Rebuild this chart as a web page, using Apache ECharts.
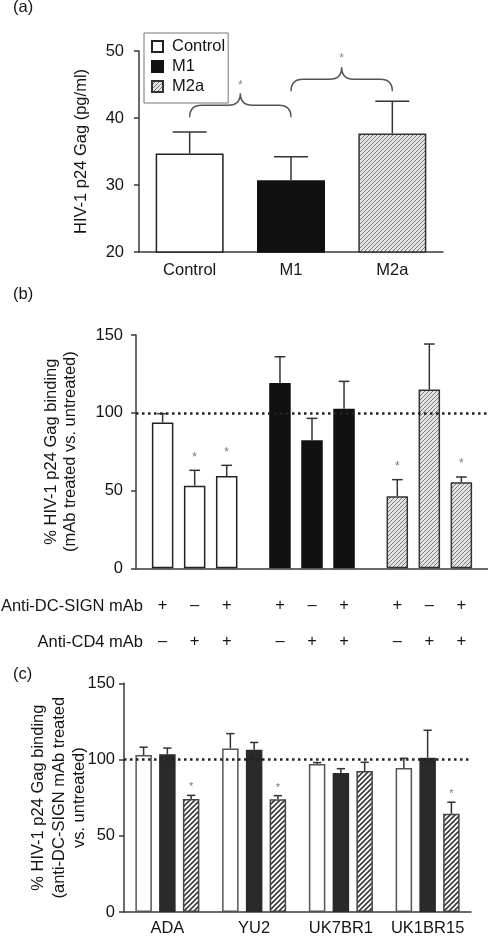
<!DOCTYPE html>
<html><head><meta charset="utf-8">
<script src="https://cdn.jsdelivr.net/npm/echarts@6/dist/echarts.min.js"></script>
<style>html,body{margin:0;padding:0;background:#fff}#c{width:488px;height:937px}</style>
</head><body><div id="c"></div>
<script>
// ---------- Panel (a) ----------
const catsA = ['Control', 'M1', 'M2a'];
const meanA = [34.7, 30.7, 37.7];
const errA = [37.9, 34.2, 42.5];
// brackets: [from category, to category, level value]
const bracketsA = [[0, 1, 41.9], [1, 2, 45.8]];

// ---------- Panel (b) ----------
const groupsB = ['Control', 'M1', 'M2a'];
const treatB = ['DC-SIGN+/CD4-', 'DC-SIGN-/CD4+', 'DC-SIGN+/CD4+'];
const meanB = [[93.8, 119.1, 46.3], [53.1, 82.3, 115.0], [59.3, 102.6, 55.3]];
const errB = [[99.4, 136.0, 57.0], [63.0, 96.4, 144.2], [66.2, 120.2, 58.7]];
const sigB = [[0, 0, 1], [1, 0, 0], [1, 0, 1]];
const dcsignB = ['+', '–', '+'];
const cd4B = ['–', '+', '+'];
const rowLabelsB = ['Anti-DC-SIGN mAb', 'Anti-CD4 mAb'];

// ---------- Panel (c) ----------
const strainsC = ['ADA', 'YU2', 'UK7BR1', 'UK1BR15'];
const seriesC = ['Control', 'M1', 'M2a'];
const meanC = [[102.9, 107.3, 97.1, 94.5], [103.4, 106.4, 91.2, 101.2], [74.1, 73.9, 92.5, 64.4]];
const errC = [[108.1, 117.0, 98.0, 100.8], [107.5, 111.2, 94.0, 119.2], [76.5, 76.3, 98.2, 72.0]];
const sigC = [[0, 0, 0, 0], [0, 0, 0, 0], [1, 1, 0, 1]];

const FONT = 'Liberation Sans, Arial, sans-serif';
const FS = 16.5;
const TXT = '#151515';
const AX = '#3a3a3a';

function hatch(size, bg, fg, lw) {
  const c = document.createElement('canvas');
  c.width = c.height = size;
  const g = c.getContext('2d');
  g.fillStyle = bg; g.fillRect(0, 0, size, size);
  g.strokeStyle = fg; g.lineWidth = lw;
  g.beginPath();
  g.moveTo(0, size); g.lineTo(size, 0);
  g.moveTo(-size, size); g.lineTo(size, -size);
  g.moveTo(0, 2 * size); g.lineTo(2 * size, 0);
  g.stroke();
  return { image: c, repeat: 'repeat' };
}
const hatchAB = hatch(4, '#e4e4e4', '#7a7a7a', 1);
const hatchC = hatch(5, '#ffffff', '#3a3a3a', 1.6);

const styleAB = [
  { color: '#ffffff', borderColor: '#222', borderWidth: 1.5 },
  { color: '#111111', borderColor: '#111', borderWidth: 1.5 },
  { color: hatchAB, borderColor: '#333', borderWidth: 1.5 }
];
const styleC = [
  { color: '#ffffff', borderColor: '#555', borderWidth: 1.5 },
  { color: '#2a2a2a', borderColor: '#2a2a2a', borderWidth: 1.5 },
  { color: hatchC, borderColor: '#444', borderWidth: 1.5 }
];

function errRender(offsetFn, capW, starGap, starSize) {
  return function (params, api) {
    const c = api.value(0), m = api.value(1), e = api.value(2), s = api.value(3);
    const b = api.coord([c, m]);
    const t = api.coord([c, e]);
    const x = b[0] + offsetFn();
    const ls = { stroke: '#333', lineWidth: 1.5 };
    const ch = [
      { type: 'line', shape: { x1: x, y1: b[1], x2: x, y2: t[1] }, style: ls },
      { type: 'line', shape: { x1: x - capW / 2, y1: t[1], x2: x + capW / 2, y2: t[1] }, style: ls }
    ];
    if (s) ch.push({ type: 'text', style: { text: '*', x: x, y: t[1] - starGap, align: 'center', verticalAlign: 'middle', fill: '#777', font: starSize + 'px ' + FONT } });
    return { type: 'group', children: ch };
  };
}

function bracketRender(params, api) {
  const a = api.value(0), b = api.value(1), lv = api.value(2);
  const p1 = api.coord([a, lv]), p2 = api.coord([b, lv]);
  const x1 = p1[0], x2 = p2[0], y = p1[1], xm = (x1 + x2) / 2;
  const h = 12, r = 12;
  const d = `M${x1},${y + h} Q${x1},${y} ${x1 + r},${y} L${xm - r},${y} Q${xm},${y} ${xm},${y - h} Q${xm},${y} ${xm + r},${y} L${x2 - r},${y} Q${x2},${y} ${x2},${y + h}`;
  return {
    type: 'group', children: [
      { type: 'path', shape: { pathData: d }, style: { stroke: '#555', lineWidth: 1.5, fill: null } },
      { type: 'text', style: { text: '*', x: xm, y: y - h - 8, align: 'center', verticalAlign: 'middle', fill: '#888', font: '12px ' + FONT } }
    ]
  };
}

const axisLineS = { lineStyle: { color: AX, width: 1.5 } };
const axisTickS = { length: 5, lineStyle: { color: AX, width: 1.5 } };
const labelS = { color: TXT, fontSize: FS, fontFamily: FONT };

const series = [];
// Panel a bars
catsA.forEach((name, i) => {
  series.push({
    type: 'bar', name, xAxisIndex: 0, yAxisIndex: 0, barWidth: 68, barGap: '-100%',
    data: catsA.map((_, j) => j === i ? meanA[i] : '-'),
    itemStyle: styleAB[i]
  });
});
series.push({
  type: 'custom', xAxisIndex: 0, yAxisIndex: 0, z: 5,
  renderItem: errRender(() => 0, 34, 10, 12),
  encode: { x: 0, y: [1, 2] },
  data: catsA.map((_, i) => [i, meanA[i], errA[i], 0])
});
series.push({
  type: 'custom', xAxisIndex: 0, yAxisIndex: 0, z: 5, clip: false,
  renderItem: bracketRender, encode: { x: [0, 1], y: 2 },
  data: bracketsA
});

// Panel b bars
const bwB = 21.5, gapB = 0.49;
treatB.forEach((name, t) => {
  series.push({
    type: 'bar', name, xAxisIndex: 1, yAxisIndex: 1, barWidth: bwB, barGap: (gapB * 100) + '%',
    data: groupsB.map((_, g) => ({ value: meanB[t][g], itemStyle: styleAB[g] })),
    label: {
      show: true, position: ['50%', '100%'], offset: [0, 55.5], align: 'center', verticalAlign: 'middle',
      formatter: dcsignB[t] + '\n' + cd4B[t], lineHeight: 35.7, fontSize: FS, fontFamily: FONT, color: TXT
    },
    markLine: t === 0 ? {
      silent: true, symbol: 'none', label: { show: false },
      lineStyle: { type: [2.5, 3.5], color: '#222', width: 2.5 },
      data: [{ yAxis: 100 }]
    } : undefined
  });
  series.push({
    type: 'custom', xAxisIndex: 1, yAxisIndex: 1, z: 5,
    renderItem: errRender(() => (t - 1) * bwB * (1 + gapB), bwB / 2, 13, 12),
    encode: { x: 0, y: [1, 2] },
    data: groupsB.map((_, g) => [g, meanB[t][g], errB[t][g], sigB[t][g]])
  });
});

// Panel c bars
const bwC = 16.5, gapC = 0.44;
seriesC.forEach((name, s) => {
  series.push({
    type: 'bar', name: name + ' ', xAxisIndex: 2, yAxisIndex: 2, barWidth: bwC, barGap: (gapC * 100) + '%',
    data: meanC[s], itemStyle: styleC[s],
    markLine: s === 0 ? {
      silent: true, symbol: 'none', label: { show: false },
      lineStyle: { type: [2.5, 3.5], color: '#222', width: 2.5 },
      data: [{ yAxis: 100 }]
    } : undefined
  });
  series.push({
    type: 'custom', xAxisIndex: 2, yAxisIndex: 2, z: 5,
    renderItem: errRender(() => (s - 1) * bwC * (1 + gapC), bwC / 2, 8, 11),
    encode: { x: 0, y: [1, 2] },
    data: strainsC.map((_, k) => [k, meanC[s][k], errC[s][k], sigC[s][k]])
  });
});

const nameStyle = { fontSize: FS, color: TXT, fontFamily: FONT };

const option = {
  animation: false,
  backgroundColor: '#fff',
  textStyle: { fontFamily: FONT },
  grid: [
    { left: 139, top: 51, width: 304, height: 201 },
    { left: 136, top: 335, width: 352, height: 233.3 },
    { left: 124, top: 683.3, width: 347, height: 230.7 }
  ],
  legend: {
    data: catsA, orient: 'vertical', left: 144, top: 33, icon: 'rect',
    padding: [5, 3, 8, 7], itemGap: 3, itemWidth: 11, itemHeight: 11,
    borderColor: '#777', borderWidth: 1,
    textStyle: { fontSize: FS, color: TXT, fontFamily: FONT, lineHeight: 16, padding: [0, 0, 0, 4] }
  },
  xAxis: [
    { type: 'category', gridIndex: 0, data: catsA, axisLine: axisLineS,
      axisTick: { alignWithLabel: true, length: 6, lineStyle: axisTickS.lineStyle },
      axisLabel: Object.assign({ margin: 10, interval: 0 }, labelS) },
    { type: 'category', gridIndex: 1, data: groupsB, axisLine: axisLineS,
      axisTick: { alignWithLabel: true, length: 6, lineStyle: axisTickS.lineStyle },
      axisLabel: { show: false } },
    { type: 'category', gridIndex: 2, data: strainsC, axisLine: axisLineS,
      axisTick: { alignWithLabel: true, length: 6, lineStyle: axisTickS.lineStyle },
      axisLabel: Object.assign({ margin: 8, interval: 0, hideOverlap: false }, labelS) }
  ],
  yAxis: [
    { type: 'value', gridIndex: 0, min: 20, max: 50, interval: 10, splitLine: { show: false },
      axisLine: Object.assign({ show: true }, axisLineS), axisTick: Object.assign({ show: true }, axisTickS),
      axisLabel: Object.assign({ margin: 15 }, labelS),
      name: 'HIV-1 p24 Gag (pg/ml)', nameLocation: 'middle', nameRotate: 90, nameGap: 49, nameMoveOverlap: false,
      nameTextStyle: nameStyle },
    { type: 'value', gridIndex: 1, min: 0, max: 150, interval: 50, splitLine: { show: false },
      axisLine: Object.assign({ show: true }, axisLineS), axisTick: Object.assign({ show: true }, axisTickS),
      axisLabel: Object.assign({ margin: 13 }, labelS),
      name: '% HIV-1 p24 Gag binding\n(mAb treated vs. untreated)', nameLocation: 'middle', nameRotate: 90, nameGap: 56, nameMoveOverlap: false,
      nameTextStyle: Object.assign({ lineHeight: 19 }, nameStyle) },
    { type: 'value', gridIndex: 2, min: 0, max: 150, interval: 50, splitLine: { show: false },
      axisLine: Object.assign({ show: true }, axisLineS), axisTick: Object.assign({ show: true }, axisTickS),
      axisLabel: Object.assign({ margin: 9 }, labelS),
      name: '% HIV-1 p24 Gag binding\n(anti-DC-SIGN mAb treated\nvs. untreated)', nameLocation: 'middle', nameRotate: 90, nameGap: 34, nameMoveOverlap: false,
      nameTextStyle: Object.assign({ lineHeight: 20.5 }, nameStyle) }
  ],
  graphic: [
    { type: 'text', left: 13, top: -1, style: { text: '(a)', font: FS + 'px ' + FONT, fill: TXT } },
    { type: 'text', left: 13, top: 286, style: { text: '(b)', font: FS + 'px ' + FONT, fill: TXT } },
    { type: 'text', left: 13, top: 666, style: { text: '(c)', font: FS + 'px ' + FONT, fill: TXT } },
    { type: 'text', x: 143, y: 606, style: { text: rowLabelsB[0], font: FS + 'px ' + FONT, fill: TXT, align: 'right', verticalAlign: 'middle' } },
    { type: 'text', x: 143, y: 642, style: { text: rowLabelsB[1], font: FS + 'px ' + FONT, fill: TXT, align: 'right', verticalAlign: 'middle' } }
  ],
  series
};

const chart = echarts.init(document.getElementById('c'), null, { renderer: 'canvas' });
chart.setOption(option);
</script>
</body></html>
